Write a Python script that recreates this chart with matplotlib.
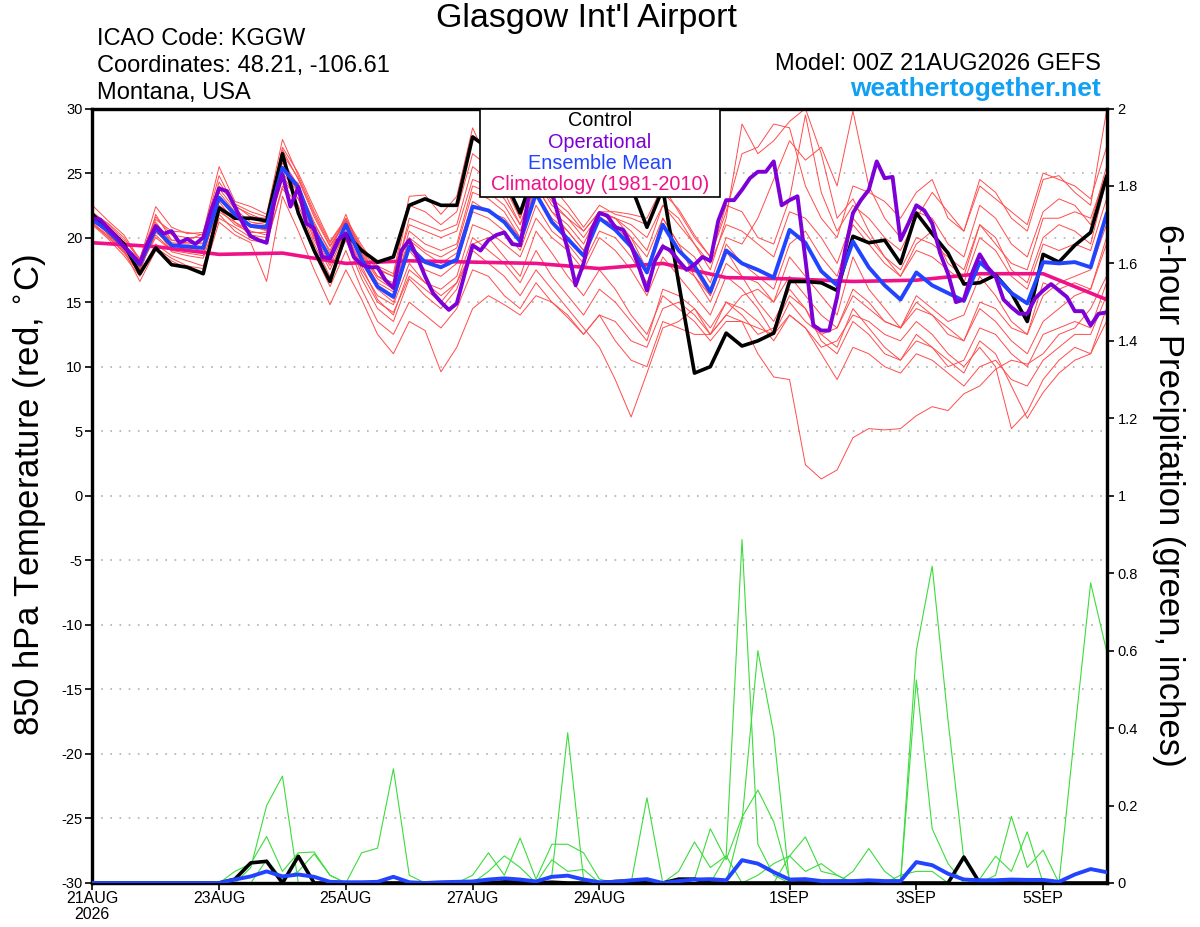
import numpy as np
import matplotlib
matplotlib.use("Agg")
import matplotlib.pyplot as plt
from matplotlib.patches import Rectangle

plt.rcParams['font.family'] = ['Liberation Sans', 'DejaVu Sans']
plt.rcParams['axes.unicode_minus'] = False

# 6-hourly steps from 00Z 21AUG2026 (step 0) to 00Z 6SEP2026 (step 64)
date_ticks = [0, 8, 16, 24, 32, 44, 52, 60]
date_labels = ["21AUG\n2026", "23AUG", "25AUG", "27AUG", "29AUG", "1SEP", "3SEP", "5SEP"]

# 850 hPa temperature of the ensemble members (deg C)
members_t = [
    [22.5, 21.3, 20.2, 18.3, 22.4, 20.8, 20.3, 20.4, 25.5, 22.8, 22.4, 21.8, 27.6,
     24.8, 22.0, 19.6, 21.4, 19.2, 17.8, 17.2, 23.2, 23.3, 21.8, 23.2, 28.5, 25.8,
     24.6, 21.5, 25.5, 24.0, 22.5, 20.8, 22.5, 21.8, 21.5, 21.0, 23.5, 22.2, 20.2,
     18.5, 22.0, 26.5, 27.0, 28.8, 28.5, 24.0, 21.5, 20.0, 24.0, 23.5, 22.8, 21.5,
     23.5, 24.5, 21.5, 20.5, 24.5, 23.5, 21.5, 20.5, 24.5, 24.8, 23.5, 22.5, 29.8],
    [21.0, 20.1, 18.8, 17.2, 19.5, 18.6, 18.2, 17.8, 21.5, 20.8, 20.0, 19.5, 24.0,
     22.5, 19.5, 17.0, 19.8, 16.8, 14.5, 13.5, 16.8, 15.5, 14.5, 16.0, 19.5, 20.0,
     18.5, 17.0, 20.5, 18.8, 17.0, 15.5, 17.5, 16.0, 14.0, 12.5, 15.5, 14.5, 13.5,
     12.0, 13.5, 13.5, 11.0, 9.2, 9.0, 2.4, 1.3, 2.0, 4.5, 5.2, 5.1, 5.2,
     6.2, 6.9, 6.6, 7.9, 8.5, 9.8, 10.5, 10.2, 11.0, 12.5, 13.0, 14.5, 17.0],
    [21.8, 20.8, 19.6, 17.6, 20.2, 19.0, 18.8, 18.6, 22.8, 21.2, 20.5, 20.2, 25.0,
     23.5, 20.0, 17.8, 20.5, 17.5, 15.5, 14.8, 18.0, 16.5, 15.5, 16.5, 19.0, 18.0,
     17.0, 15.5, 17.5, 16.0, 14.5, 13.0, 11.5, 9.0, 6.1, 9.5, 13.0, 13.5, 14.5,
     13.0, 15.0, 14.0, 12.5, 13.0, 15.5, 14.5, 12.0, 11.0, 13.5, 12.5, 11.0, 10.5,
     12.0, 11.5, 10.0, 10.5, 13.0, 12.5, 11.0, 10.0, 12.5, 13.0, 13.5, 13.0, 16.5],
    [21.2, 20.6, 19.5, 18.0, 21.0, 19.8, 19.6, 19.5, 23.8, 22.2, 21.2, 21.0, 26.0,
     24.0, 21.0, 19.0, 21.5, 19.0, 17.0, 16.5, 21.5, 21.0, 20.5, 21.0, 25.5, 24.5,
     23.5, 21.0, 24.5, 22.5, 21.5, 20.0, 21.8, 21.5, 20.5, 19.0, 22.5, 21.5, 19.5,
     17.5, 21.5, 28.8, 26.5, 27.5, 29.0, 30.0, 26.5, 21.5, 23.0, 20.5, 18.5, 17.0,
     19.5, 20.5, 18.0, 17.0, 21.0, 20.0, 17.5, 16.5, 20.0, 21.0, 20.5, 19.5, 24.5],
    [21.5, 20.3, 19.0, 16.6, 19.0, 18.2, 17.6, 17.2, 21.2, 20.2, 19.6, 16.6, 23.2,
     20.5, 17.5, 14.8, 17.5, 15.2, 12.5, 11.0, 13.5, 12.8, 9.6, 11.5, 14.5, 15.5,
     14.8, 14.0, 15.5, 15.0, 13.8, 12.5, 14.0, 13.5, 12.0, 11.5, 14.5, 15.0, 14.0,
     12.5, 14.0, 15.5, 16.0, 15.0, 17.0, 15.5, 14.0, 13.0, 16.0, 15.0, 13.5, 13.0,
     15.0, 14.0, 13.0, 12.0, 14.5, 13.5, 12.0, 11.0, 13.5, 14.5, 15.5, 16.0, 19.5],
    [22.0, 21.0, 19.8, 18.4, 21.6, 20.2, 20.0, 20.0, 24.3, 22.5, 21.6, 21.5, 26.8,
     24.5, 21.6, 19.3, 21.2, 18.8, 17.0, 16.2, 20.5, 19.5, 19.0, 19.5, 24.0, 23.5,
     22.5, 20.5, 24.0, 22.0, 21.0, 19.5, 22.0, 21.0, 20.0, 18.5, 21.5, 19.5, 18.5,
     16.5, 20.0, 19.5, 21.5, 24.5, 27.5, 26.0, 27.0, 24.0, 29.8, 24.0, 21.5, 20.0,
     22.0, 21.5, 19.5, 18.5, 22.5, 21.5, 19.5, 18.5, 22.0, 23.0, 22.5, 21.0, 25.5],
    [21.3, 20.4, 19.1, 17.5, 20.5, 19.2, 19.0, 18.8, 22.5, 21.5, 20.8, 20.6, 25.2,
     24.2, 20.2, 18.0, 21.0, 18.0, 16.0, 15.0, 19.0, 17.5, 17.0, 18.0, 22.0, 21.5,
     20.5, 19.0, 22.5, 20.5, 19.5, 18.0, 20.5, 20.0, 18.5, 16.5, 19.5, 18.0, 17.0,
     15.0, 18.0, 17.0, 15.0, 13.5, 16.0, 14.5, 12.5, 11.5, 14.5, 13.0, 11.5, 10.5,
     12.5, 11.5, 10.5, 9.5, 12.0, 11.0, 8.5, 6.0, 8.0, 9.5, 10.5, 11.0, 13.5],
    [21.6, 20.7, 19.4, 18.1, 21.2, 19.6, 19.5, 19.6, 23.5, 22.0, 21.0, 21.2, 25.8,
     24.0, 21.2, 18.8, 21.8, 18.7, 16.8, 16.0, 20.0, 19.0, 18.5, 19.2, 23.5, 23.0,
     22.0, 20.0, 24.0, 22.0, 20.5, 19.0, 21.5, 21.0, 19.5, 17.5, 21.0, 19.0, 17.5,
     15.5, 19.5, 18.0, 17.0, 16.0, 19.5, 20.5, 18.5, 17.0, 21.0, 19.5, 18.0, 17.0,
     19.0, 18.5, 17.5, 16.5, 20.0, 19.0, 17.0, 16.0, 19.5, 19.0, 19.5, 19.0, 23.0],
    [21.1, 20.2, 19.0, 17.8, 20.0, 19.0, 19.2, 19.0, 22.2, 21.0, 20.4, 20.4, 24.5,
     23.0, 20.5, 18.2, 20.5, 17.8, 15.2, 14.0, 17.5, 16.5, 16.0, 17.0, 21.0, 20.5,
     19.5, 18.5, 21.5, 20.0, 19.0, 17.5, 20.0, 19.0, 17.5, 15.5, 18.5, 17.0, 15.5,
     14.0, 17.0, 16.0, 14.5, 12.5, 14.0, 13.0, 11.5, 12.0, 14.0, 13.5, 12.5, 12.0,
     13.5, 12.5, 11.0, 10.0, 11.5, 10.0, 5.2, 6.5, 9.0, 10.5, 11.5, 11.0, 14.5],
    [21.9, 21.1, 20.0, 18.2, 21.4, 20.5, 20.4, 20.2, 24.0, 22.6, 22.0, 21.6, 26.5,
     24.6, 21.8, 19.4, 21.3, 19.0, 17.5, 17.0, 22.5, 22.0, 21.0, 22.0, 26.5, 25.5,
     24.0, 21.5, 25.0, 23.0, 22.0, 20.5, 22.0, 22.0, 21.8, 21.5, 24.0, 22.0, 20.0,
     18.5, 22.5, 22.0, 20.0, 19.5, 23.0, 29.5, 23.5, 20.5, 22.5, 21.5, 20.0, 19.0,
     21.5, 23.5, 22.0, 20.5, 24.0, 23.0, 22.0, 21.0, 25.0, 24.5, 24.0, 23.0, 27.0],
    [21.4, 20.3, 19.2, 17.7, 20.4, 19.5, 19.2, 19.3, 23.0, 21.6, 21.0, 20.5, 25.3,
     23.6, 20.4, 18.3, 21.2, 18.6, 16.5, 15.8, 19.8, 18.8, 18.0, 18.8, 22.8, 22.0,
     21.5, 20.0, 23.5, 21.5, 20.5, 19.0, 22.0, 21.5, 20.0, 17.5, 21.5, 19.5, 17.0,
     15.5, 19.0, 17.0, 16.5, 15.0, 18.5, 17.0, 15.5, 14.0, 18.5, 16.0, 14.5, 13.0,
     15.5, 14.5, 13.5, 14.0, 17.0, 15.5, 13.5, 12.5, 16.5, 16.0, 16.5, 16.0, 20.0],
    [21.7, 20.9, 19.3, 17.3, 20.8, 18.9, 18.6, 18.4, 22.0, 21.2, 20.2, 20.0, 24.8,
     23.0, 19.8, 17.5, 20.2, 17.2, 15.0, 14.2, 17.0, 16.0, 15.0, 16.5, 20.0, 19.0,
     18.0, 16.5, 19.0, 17.0, 15.5, 14.0, 16.0, 15.0, 13.5, 12.0, 16.0, 15.5, 14.5,
     12.5, 15.0, 14.5, 13.5, 12.0, 14.0, 13.0, 11.0, 9.0, 11.5, 11.0, 10.0, 9.5,
     11.0, 10.5, 9.5, 8.5, 10.0, 10.5, 9.0, 8.5, 10.5, 11.5, 12.5, 12.5, 15.5],
    [21.2, 20.0, 18.9, 17.4, 21.8, 19.8, 19.8, 20.3, 24.8, 22.4, 21.8, 21.3, 27.0,
     25.0, 22.3, 19.7, 21.5, 19.4, 17.6, 17.0, 21.0, 20.5, 20.0, 20.5, 24.5, 24.0,
     23.0, 21.0, 24.5, 22.8, 21.5, 20.5, 22.0, 21.5, 21.0, 20.0, 22.5, 21.0, 19.5,
     18.0, 21.0, 20.5, 19.5, 18.5, 22.0, 21.5, 20.0, 18.0, 21.5, 20.0, 18.5, 17.5,
     20.0, 19.5, 18.5, 17.5, 21.0, 19.5, 18.0, 17.5, 21.5, 21.5, 22.0, 21.5, 25.0],
    [21.0, 19.9, 18.6, 17.0, 19.2, 18.4, 17.8, 17.6, 21.8, 20.5, 19.8, 19.6, 23.8,
     22.0, 18.8, 16.2, 19.0, 16.0, 13.5, 12.5, 15.0, 14.0, 13.0, 14.5, 17.5, 17.0,
     15.5, 14.5, 16.5, 15.0, 14.0, 12.5, 14.0, 12.0, 10.5, 10.0, 13.5, 13.0, 12.5,
     12.5, 14.0, 13.5, 13.0, 12.5, 15.0, 13.5, 12.5, 13.0, 15.5, 14.5, 13.5, 13.0,
     14.5, 14.0, 12.5, 12.0, 15.0, 14.5, 13.0, 12.5, 15.5, 16.5, 17.0, 17.5, 21.0],
]

control_t = [
    21.8, 20.7, 19.5, 17.2, 19.2, 17.9, 17.7, 17.2, 22.3, 21.5, 21.5, 21.3, 26.5,
    21.9, 19.0, 16.6, 20.3, 19.0, 18.1, 18.5, 22.5, 23.0, 22.5, 22.5, 27.8, 26.9,
    24.5, 21.9, 25.5, 24.5, 25.0, 23.8, 24.5, 25.0, 24.0, 20.8, 23.8, 16.5, 9.5,
    10.0, 12.6, 11.6, 12.0, 12.6, 16.6, 16.6, 16.5, 15.9, 20.1, 19.6, 19.8, 18.0,
    21.9, 20.3, 18.8, 16.4, 16.5, 17.1, 15.7, 13.5, 18.7, 18.1, 19.4, 20.4, 24.7]

mean_t = [
    21.4, 20.5, 19.3, 17.9, 20.7, 19.4, 19.3, 19.2, 23.1, 21.8, 20.9, 20.8, 25.4,
    23.9, 20.6, 18.4, 21.0, 18.3, 16.2, 15.4, 19.3, 18.1, 17.7, 18.3, 22.4, 22.1,
    21.2, 19.7, 23.4, 21.2, 19.9, 18.6, 21.5, 20.6, 19.3, 17.3, 21.0, 19.0, 17.8,
    15.8, 19.0, 18.0, 17.5, 16.9, 20.6, 19.6, 17.4, 16.3, 19.7, 17.7, 16.3, 15.2,
    17.3, 16.3, 15.7, 15.1, 18.1, 17.0, 15.7, 14.9, 18.1, 18.0, 18.1, 17.7, 21.8]

# operational run, 3-hourly
oper_t = [
    21.5, 21.4, 20.7, 20.1, 19.3, 18.7, 18.0, 19.6, 20.9, 20.3, 20.5, 19.6, 19.9, 19.5,
    20.0, 22.1, 23.8, 23.6, 22.4, 21.1, 20.1, 19.8, 19.6, 22.9, 24.9, 22.4, 23.9, 21.1,
    20.7, 18.5, 18.4, 19.8, 20.3, 18.5, 17.9, 17.7, 17.7, 16.7, 16.1, 19.0, 19.8, 18.5,
    17.0, 15.7, 15.0, 14.4, 14.9, 17.2, 19.4, 19.0, 19.8, 20.2, 20.4, 19.5, 19.4, 22.9,
    24.5, 24.5, 23.5, 21.3, 19.1, 16.3, 18.0, 20.6, 21.9, 21.7, 20.8, 20.6, 19.4, 17.7,
    15.9, 18.2, 19.3, 19.0, 18.2, 17.5, 17.9, 18.5, 18.2, 21.3, 22.9, 22.9, 23.7, 24.6,
    25.1, 25.1, 25.9, 22.5, 22.9, 23.2, 18.3, 13.2, 12.8, 12.8, 15.4, 19.0, 21.9, 22.9,
    23.7, 25.9, 24.6, 24.7, 19.8, 21.1, 22.5, 22.1, 21.1, 18.8, 17.2, 15.0, 15.2, 17.2,
    18.7, 17.7, 17.0, 15.2, 14.6, 14.1, 14.1, 15.3, 15.9, 16.4, 15.9, 15.4, 14.3, 14.3,
    13.2, 14.1, 14.2]

# climatology, one value per day at 00Z
clim_t = [19.6, 19.3, 18.7, 18.8, 18.0, 18.2, 18.1, 18.0, 17.6, 18.0, 16.9, 16.8,
          16.6, 16.7, 17.2, 17.2, 15.2]

# 6-hour precipitation of the ensemble members (inches)
members_p = [
    [0] * 10 + [0.04, 0.2, 0.276] + [0] * 52,
    [0] * 9 + [0.03, 0.05, 0.12, 0.03, 0.078, 0.08, 0.02] + [0] * 49,
    [0] * 11 + [0.06, 0.01, 0.03, 0.075, 0.02] + [0] * 49,
    [0] * 17 + [0.078, 0.09, 0.295, 0.02] + [0] * 44,
    [0] * 29 + [0.02, 0.388, 0.01] + [0] * 33,
    [0] * 24 + [0.02, 0.078, 0.02, 0.116, 0.01, 0.1, 0.1, 0.078, 0.01] + [0] * 32,
    [0] * 25 + [0.03, 0.07, 0.04, 0.0, 0.06, 0.03, 0.035] + [0] * 25
    + [0.02, 0.172, 0.04, 0.085] + [0] * 4,
    [0] * 35 + [0.22] + [0] * 20 + [0.01, 0.069, 0.03, 0.132] + [0] * 5,
    [0] * 37 + [0.03, 0.106, 0.04, 0.07] + [0] * 3 + [0.07, 0.119, 0.03, 0.02] + [0] * 17,
    [0] * 38 + [0.01, 0.14, 0.06, 0.17, 0.24, 0.158, 0.01] + [0] * 3
    + [0.03, 0.089, 0.03] + [0] * 14,
    [0] * 40 + [0.07, 0.887, 0.1, 0.02] + [0] * 21,
    [0] * 41 + [0.16, 0.6, 0.386] + [0] * 21,
    [0] * 52 + [0.6, 0.818, 0.42, 0.06] + [0] * 9,
    [0] * 52 + [0.524, 0.14, 0.05] + [0] * 10,
    [0] * 62 + [0.39, 0.775, 0.6],
    [0] * 42 + [0.02, 0.05, 0.07, 0.03, 0.05, 0.02] + [0] * 3 + [0.02, 0.03, 0.03] + [0] * 11,
]

control_p = ([0] * 9 + [0.01, 0.052, 0.056, 0.0, 0.069] + [0] * 12
             + [0.003, 0.003, 0.0, 0.002, 0.0, 0.0, 0.0, 0.004, 0.005, 0.0, 0.0, 0.01, 0.01]
             + [0] * 16 + [0.067] + [0] * 9)

mean_p = [
    0, 0, 0, 0, 0, 0, 0, 0, 0, 0.009, 0.017, 0.03, 0.017,
    0.022, 0.016, 0.003, 0.002, 0.002, 0.003, 0.016, 0.002, 0.0, 0.002, 0.003, 0.004, 0.009,
    0.012, 0.009, 0.004, 0.016, 0.019, 0.009, 0.002, 0.003, 0.007, 0.01, 0.0, 0.005, 0.009,
    0.01, 0.007, 0.059, 0.05, 0.028, 0.009, 0.01, 0.005, 0.005, 0.005, 0.007, 0.005, 0.005,
    0.054, 0.046, 0.024, 0.009, 0.007, 0.007, 0.009, 0.008, 0.008, 0.003, 0.022, 0.036, 0.028]

steps = np.arange(len(mean_t))
oper_steps = np.arange(len(oper_t)) * 0.5
clim_steps = np.arange(len(clim_t)) * 4

fig = plt.figure(figsize=(12, 9.27), dpi=100)
ax = fig.add_axes([92.3 / 1200, 1 - 883 / 927, 1014.2 / 1200, 774.5 / 927])
ax2 = ax.twinx()

for m in members_t:
    ax.plot(steps, m, color='#ff4c4c', lw=0.7, zorder=2)

for v in range(-25, 30, 5):
    ax.axhline(v, color='#b0b0b0', lw=1.2, ls=(0, (1, 4.5)), zorder=1)

ax.plot(clim_steps, clim_t, color='#ee1188', lw=2.6, zorder=4)
ax.plot(steps, control_t, color='black', lw=2.6, zorder=5)
ax.plot(steps, mean_t, color='#2244ff', lw=2.8, zorder=6)
ax.plot(oper_steps, oper_t, color='#7d00d6', lw=2.8, zorder=7)

for m in members_p:
    ax2.plot(steps, m, color='#3cdc3c', lw=0.8, zorder=2)
ax2.plot(steps, control_p, color='black', lw=2.6, zorder=4)
ax2.plot(steps, mean_p, color='#2244ff', lw=2.8, zorder=5)

ax.set_xlim(0, 64)
ax.set_ylim(-30, 30)
ax2.set_ylim(0, 2)

ax.set_yticks(range(-30, 31, 5))
ax.set_xticks(date_ticks)
ax.set_xticklabels(date_labels, fontsize=11.5, linespacing=1.05)
ax2.set_yticks(np.arange(0, 2.01, 0.2))
ax2.set_yticklabels(["0", "0.2", "0.4", "0.6", "0.8", "1", "1.2", "1.4", "1.6", "1.8", "2"])

ax.tick_params(axis='y', direction='out', length=5, width=1.2, labelsize=10.5, pad=2)
ax.tick_params(axis='x', direction='out', length=5, width=1.2, pad=1)
ax2.tick_params(axis='y', direction='out', length=5, width=1.2, labelsize=10.5, pad=3)

for a in (ax, ax2):
    for s in a.spines.values():
        s.set_linewidth(2.3)

# legend box
ax2.add_patch(Rectangle((0.382, 0.886), 0.237, 0.114, transform=ax2.transAxes,
                        facecolor='white', edgecolor='black', lw=1.2, zorder=10))
legend_items = [("Control", 'black'), ("Operational", '#7d00d6'),
                ("Ensemble Mean", '#2244ff'), ("Climatology (1981-2010)", '#ee1188')]
for k, (txt, col) in enumerate(legend_items):
    ax2.text(0.5007, 0.984 - k * 0.0275, txt, color=col, fontsize=14.3,
             ha='center', va='center', transform=ax2.transAxes, zorder=11)

fig.text(586 / 1200, 1 - 19 / 927, "Glasgow Int'l Airport", fontsize=24.5,
         ha='center', va='center')
fig.text(97 / 1200, 1 - 39 / 927, "ICAO Code: KGGW", fontsize=17, va='center')
fig.text(97 / 1200, 1 - 66 / 927, "Coordinates: 48.21, -106.61", fontsize=17, va='center')
fig.text(97 / 1200, 1 - 93 / 927, "Montana, USA", fontsize=17, va='center')
fig.text(1101 / 1200, 1 - 64 / 927, "Model: 00Z 21AUG2026 GEFS", fontsize=17,
         ha='right', va='center')
fig.text(1101 / 1200, 1 - 89 / 927, "weathertogether.net", fontsize=19, fontweight='bold',
         color='#12a0f2', ha='right', va='center')

fig.text(30 / 1200, 1 - 495 / 927, "850 hPa Temperature (red, $^{\\circ}$C)", fontsize=25,
         rotation=90, ha='center', va='center')
fig.text(1168 / 1200, 1 - 495 / 927, "6-hour Precipitation (green, inches)", fontsize=25,
         rotation=270, ha='center', va='center')

fig.savefig("out.png", dpi=100)
